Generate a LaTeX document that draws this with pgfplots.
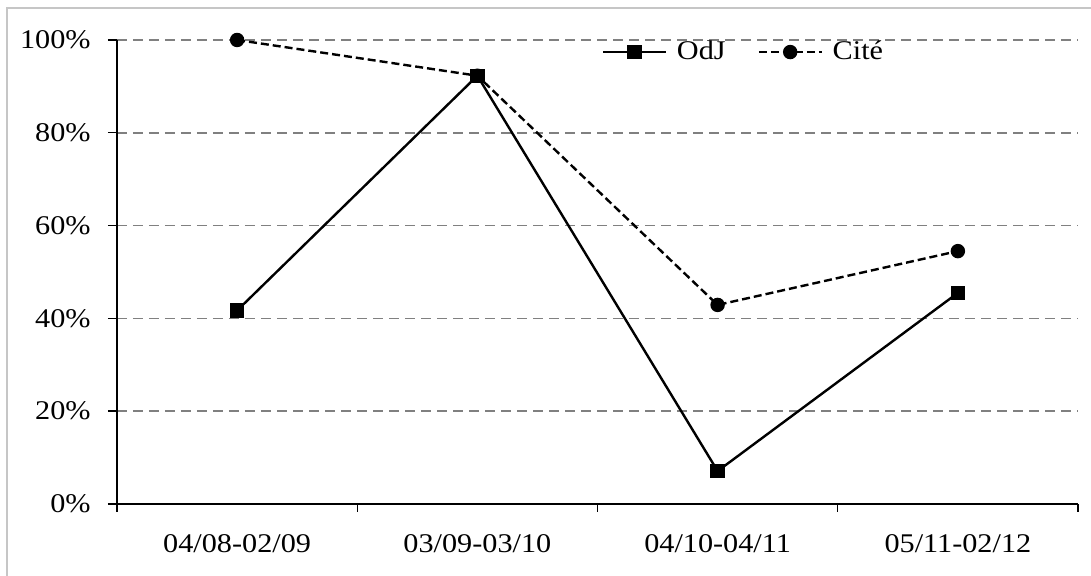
\documentclass[border=0pt]{standalone}
\usepackage{pgfplots}
\pgfplotsset{compat=1.18}
\usepackage{fontspec}
\setmainfont{Liberation Serif}[FakeStretch=1.12]
\begin{document}
\fontsize{13.5pt}{16pt}\selectfont
\begin{tikzpicture}
\path[use as bounding box] (-58.5pt,-36pt) rectangle (487pt,252pt);
\draw[gray!45, line width=1pt] (-55pt,-40pt) -- (-55pt,248pt) -- (490pt,248pt);
\begin{axis}[
	scale only axis,
	width=480.5pt, height=232pt,
	xmin=0, xmax=4, ymin=0, ymax=100,
	axis lines*=left,
	axis line style={line width=0.8pt},
	xtick={0.5,1.5,2.5,3.5},
	xticklabels={04/08-02/09,03/09-03/10,04/10-04/11,05/11-02/12},
	xticklabel style={yshift=-6pt},
	yticklabel style={xshift=-4pt},
	minor xtick={0,1,2,3,4},
	major x tick style={draw=none},
	tick align=outside,
	major tick length=4.5pt,
	minor tick length=4pt,
	tick style={black, line width=0.7pt},
	ytick={0,20,40,60,80,100},
	yticklabel={\pgfmathprintnumber{\tick}\%},
	/pgf/number format/assume math mode=true,
	ymajorgrids,
	major grid style={gray, dash pattern=on 5pt off 3pt, line width=0.8pt},
	legend columns=-1,
	legend style={draw=none, fill=none, at={(0.498,0.974)}, anchor=west,
		/tikz/every odd column/.append style={column sep=3pt},
		/tikz/every even column/.append style={column sep=14pt}},
	legend image code/.code={\draw[mark repeat=2,mark phase=2]
		plot coordinates {(0cm,0cm)(0.55cm,0cm)(1.1cm,0cm)};},
]
\addplot[black, line width=1.2pt, mark=square*, mark size=3pt]
	coordinates {(0.5,41.7)(1.5,92.3)(2.5,7.1)(3.5,45.5)};
\addplot[black, line width=1.2pt, dash pattern=on 4pt off 2pt, mark=*, mark size=3pt,
	mark options={solid}]
	coordinates {(0.5,100)(1.5,92.3)(2.5,42.9)(3.5,54.5)};
\legend{OdJ,Cité}
\end{axis}
\end{tikzpicture}
\end{document}
